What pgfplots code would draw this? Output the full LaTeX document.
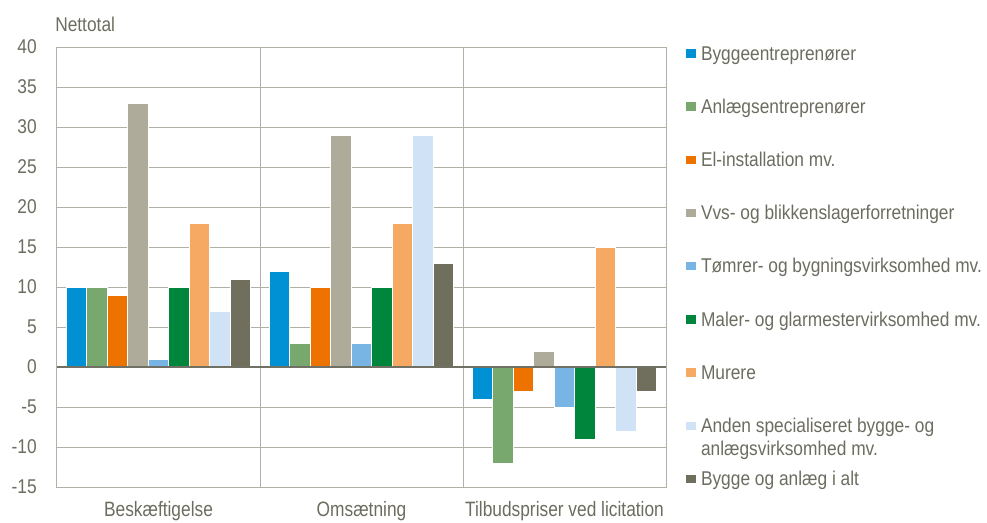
\documentclass[border=0pt]{standalone}
\usepackage{fontspec}
\setmainfont{Liberation Sans}
\usepackage{graphicx}
\usepackage{pgfplots}
\pgfplotsset{compat=1.18}
\definecolor{c1}{RGB}{0,145,213}
\definecolor{c2}{RGB}{120,168,110}
\definecolor{c3}{RGB}{237,114,0}
\definecolor{c4}{RGB}{174,171,155}
\definecolor{c5}{RGB}{120,180,228}
\definecolor{c6}{RGB}{0,133,60}
\definecolor{c7}{RGB}{246,169,98}
\definecolor{c8}{RGB}{207,226,246}
\definecolor{c9}{RGB}{112,110,92}
\definecolor{gridc}{RGB}{178,176,164}
\definecolor{zeroc}{RGB}{112,112,100}
\definecolor{textc}{RGB}{108,108,96}
\newcommand\vs[1]{\scalebox{1}[1.15]{#1}}
\newcommand\vx[1]{\scalebox{1}[1.2]{#1}}
\pgfplotsset{mybar/.style={fill=#1, draw=white, line width=0.75pt}}
\begin{document}
\begin{tikzpicture}
\begin{axis}[
  scale only axis, width=456.75pt, height=330pt,
  xmin=-0.5, xmax=2.5, ymin=-15, ymax=40,
  ytick={-15,-10,...,40},
  xtick={0,1,2},
  xticklabels={{\vx{Beskæftigelse}},{\vx{Omsætning}},{\vx{Tilbudspriser ved licitation}}},
  minor xtick={0.5,1.5},
  xminorgrids=true, ymajorgrids=true,
  major tick length=0pt, minor tick length=0pt,
  major grid style={gridc, line width=0.75pt},
  minor grid style={gridc, line width=0.75pt},
  axis line style={gridc, line width=0.75pt},
  font=\fontsize{13}{15}\selectfont,
  tick label style={text=textc},
  /pgf/number format/assume math mode=true,
  yticklabel={\vs{\pgfmathprintnumber{\tick}}},
  yticklabel style={anchor=east, inner sep=0pt, xshift=-15pt},
  xticklabel style={anchor=north, inner sep=0pt, yshift=-10.5pt},
  ybar=0pt, bar width=15.35pt,
  legend style={at={(rel axis cs:1,1)}, anchor=north west, xshift=15pt, yshift=1.25pt,
    draw=none, fill=none, inner sep=0pt, outer sep=0pt, row sep=25.9pt,
    font=\fontsize{13}{15}\selectfont, text=textc,
    nodes={inner sep=0pt, text height=11pt, text depth=3pt},
    cells={anchor=base west},
    /tikz/every odd column/.append style={column sep=3.75pt}},
  legend image code/.code={\fill[#1, draw=none] (0pt,1.8pt) rectangle (7.5pt,8.1pt);},
]
\addplot[mybar=c1] coordinates {(0,10) (1,12) (2,-4)};
\addplot[mybar=c2] coordinates {(0,10) (1,3) (2,-12)};
\addplot[mybar=c3] coordinates {(0,9) (1,10) (2,-3)};
\addplot[mybar=c4] coordinates {(0,33) (1,29) (2,2)};
\addplot[mybar=c5] coordinates {(0,1) (1,3) (2,-5)};
\addplot[mybar=c6] coordinates {(0,10) (1,10) (2,-9)};
\addplot[mybar=c7] coordinates {(0,18) (1,18) (2,15)};
\addplot[mybar=c8] coordinates {(0,7) (1,29) (2,-8)};
\addplot[mybar=c9] coordinates {(0,11) (1,13) (2,-3)};
\legend{\vs{Byggeentreprenører},\vs{Anlægsentreprenører},\vs{El-installation mv.},\vs{Vvs- og blikkenslagerforretninger},\vs{Tømrer- og bygningsvirksomhed mv.},\vs{Maler- og glarmestervirksomhed mv.},\vs{Murere},{\smash{\vs{\begin{tabular}[t]{@{}l@{}}Anden specialiseret bygge- og\\anlægsvirksomhed mv.\end{tabular}}}},\vs{Bygge og anlæg i alt}}
\draw[zeroc, line width=1.1pt] (axis cs:-0.5,0) -- (axis cs:2.5,0);
\coordinate (SW) at (rel axis cs:0,0);
\end{axis}
\node[anchor=base west, text=textc, inner sep=0pt, font=\fontsize{13}{15}\selectfont] at ([shift={(-1.5pt,341.25pt)}]SW) {\vs{Nettotal}};
\pgfresetboundingbox
\path[use as bounding box] ([shift={(-42.75pt,-26.25pt)}]SW) rectangle ([shift={(697.5pt,365.25pt)}]SW);
\end{tikzpicture}
\end{document}
